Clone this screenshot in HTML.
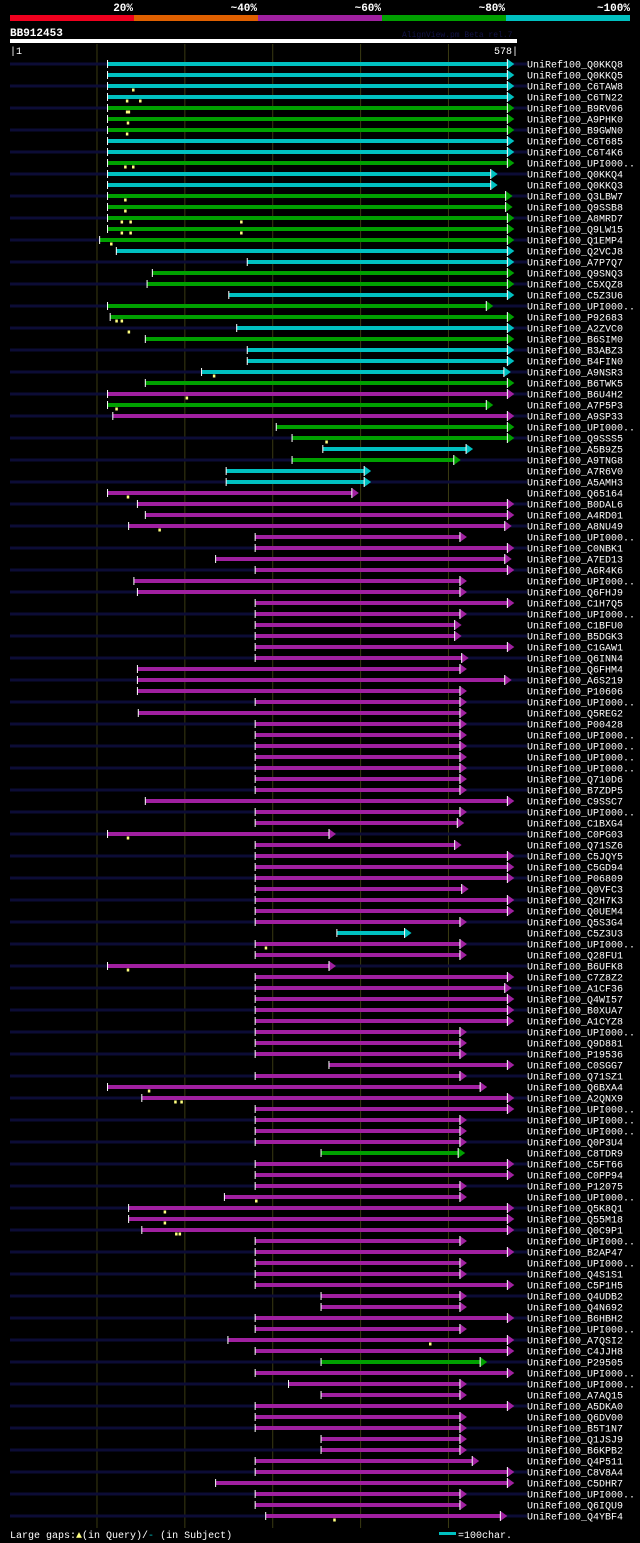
<!DOCTYPE html>
<html><head><meta charset="utf-8"><style>
html,body{margin:0;padding:0;background:#000;}
svg{display:block;}
text{font-family:"Liberation Mono",monospace;}
</style></head><body>
<svg id="chart" width="640" height="1543" viewBox="0 0 640 1543" xmlns="http://www.w3.org/2000/svg">
<rect x="0" y="0" width="640" height="1543" fill="#000"/>
<g id="header">
<rect x="10" y="15" width="124" height="6" fill="#f0001e"/>
<rect x="134" y="15" width="124" height="6" fill="#e06000"/>
<rect x="258" y="15" width="124" height="6" fill="#a020a0"/>
<rect x="382" y="15" width="124" height="6" fill="#00a000"/>
<rect x="506" y="15" width="124" height="6" fill="#00c0c0"/>
<text x="133" y="11" fill="#fff" font-size="11" font-weight="bold" text-anchor="end">20%</text>
<text x="257" y="11" fill="#fff" font-size="11" font-weight="bold" text-anchor="end">~40%</text>
<text x="381" y="11" fill="#fff" font-size="11" font-weight="bold" text-anchor="end">~60%</text>
<text x="505" y="11" fill="#fff" font-size="11" font-weight="bold" text-anchor="end">~80%</text>
<text x="630" y="11" fill="#fff" font-size="11" font-weight="bold" text-anchor="end">~100%</text>
<text x="10" y="36" fill="#fff" font-size="11" font-weight="bold">BB912453</text>
<text x="402" y="37" fill="#141448" font-size="8">AlignView.pm Beta rel.7</text>
<rect x="10" y="39" width="507" height="4" fill="#fff"/>
<text x="10" y="54" fill="#fff" font-size="10">|1</text>
<text x="518" y="54" fill="#fff" font-size="10" text-anchor="end">578|</text>
</g>
<g id="grid"></g>
<g id="rows"></g>
<g id="footer">
<text x="10" y="1538" fill="#fff" font-size="10">Large gaps:<tspan fill="#ffff80">▲</tspan>(in Query)/<tspan fill="#00c0c0">-</tspan> (in Subject)</text>
<rect x="439" y="1532" width="17" height="3" fill="#00c0c0"/>
<text x="458" y="1538" fill="#fff" font-size="10">=100char.</text>
</g>
</svg>
<script>
const labels = ["Q0KKQ8","Q0KKQ5","C6TAW8","C6TN22","B9RV06","A9PHK0","B9GWN0","C6T685","C6T4K6","UPI000..","Q0KKQ4","Q0KKQ3","Q3LBW7","Q9SSB8","A8MRD7","Q9LW15","Q1EMP4","Q2VCJ8","A7P7Q7","Q9SNQ3","C5XQZ8","C5Z3U6","UPI000..","P92683","A2ZVC0","B6SIM0","B3ABZ3","B4FIN0","A9NSR3","B6TWK5","B6U4H2","A7P5P3","A9SP33","UPI000..","Q9SSS5","A5B9Z5","A9TNG8","A7R6V0","A5AMH3","Q65164","B0DAL6","A4RD01","A8NU49","UPI000..","C0NBK1","A7ED13","A6R4K6","UPI000..","Q6FHJ9","C1H7Q5","UPI000..","C1BFU0","B5DGK3","C1GAW1","Q6INN4","Q6FHM4","A6S219","P10606","UPI000..","Q5REG2","P00428","UPI000..","UPI000..","UPI000..","UPI000..","Q710D6","B7ZDP5","C9SSC7","UPI000..","C1BXG4","C0PG03","Q71SZ6","C5JQY5","C5GD94","P06809","Q0VFC3","Q2H7K3","Q0UEM4","Q5S3G4","C5Z3U3","UPI000..","Q28FU1","B6UFK8","C7Z8Z2","A1CF36","Q4WI57","B0XUA7","A1CYZ8","UPI000..","Q9D881","P19536","C0SGG7","Q71SZ1","Q6BXA4","A2QNX9","UPI000..","UPI000..","UPI000..","Q0P3U4","C8TDR9","C5FT66","C0PP94","P12075","UPI000..","Q5K8Q1","Q55M18","Q0C9P1","UPI000..","B2AP47","UPI000..","Q4S1S1","C5P1H5","Q4UDB2","Q4N692","B6HBH2","UPI000..","A7QSI2","C4JJH8","P29505","UPI000..","UPI000..","A7AQ15","A5DKA0","Q6DV00","B5T1N7","Q1JSJ9","B6KPB2","Q4P511","C8V8A4","C5DHR7","UPI000..","Q6IQU9","Q4YBF4"];
const starts = [112,112,112,112,112,112,112,112,112,112,112,112,112,112,112,112,103,122,271,163,157,250,112,115,259,155,271,271,219,155,112,112,118,304,322,357,322,247,247,112,146,155,136,280,280,235,280,142,146,280,280,280,280,280,280,146,146,146,280,147,280,280,280,280,280,280,280,155,280,280,112,280,280,280,280,280,280,280,280,373,280,280,112,280,280,280,280,280,280,280,280,364,280,112,151,280,280,280,280,355,280,280,280,245,136,136,151,280,280,280,280,280,355,355,280,280,249,280,355,280,318,355,280,280,280,355,355,280,280,235,280,280,292];
const ends = [575,575,575,575,575,575,575,575,575,575,556,556,573,573,575,575,575,575,575,575,575,575,551,575,575,575,575,575,571,575,575,551,575,575,575,528,514,412,412,398,575,575,572,521,575,572,575,521,521,575,521,515,515,575,523,521,572,521,521,521,521,521,521,521,521,521,521,575,521,518,372,515,575,575,575,523,575,575,521,458,521,521,372,575,572,575,575,575,521,521,521,575,521,544,575,575,521,521,521,519,575,575,521,521,575,575,575,521,575,521,521,575,521,521,575,521,575,575,544,575,521,521,575,521,521,521,521,535,575,575,521,521,567];
const identity = ["c","c","c","c","g","g","g","c","c","g","c","c","g","g","g","g","g","c","c","g","g","c","g","g","c","g","c","c","c","g","m","g","m","g","g","c","g","c","c","m","m","m","m","m","m","m","m","m","m","m","m","m","m","m","m","m","m","m","m","m","m","m","m","m","m","m","m","m","m","m","m","m","m","m","m","m","m","m","m","c","m","m","m","m","m","m","m","m","m","m","m","m","m","m","m","m","m","m","m","g","m","m","m","m","m","m","m","m","m","m","m","m","m","m","m","m","m","m","g","m","m","m","m","m","m","m","m","m","m","m","m","m","m"];
const gapRows = [3,4,4,5,5,6,7,10,10,13,14,15,15,15,16,16,16,17,24,24,25,29,31,32,35,40,43,71,81,83,94,95,95,104,105,106,107,107,117,133];
const gapPos = [141,134,149,134,136,135,134,132,141,132,132,128,138,264,128,138,264,116,122,128,136,233,202,122,361,135,171,135,292,135,159,189,196,281,177,177,190,194,479,370];
const queryLength = 578;
const gridTicks = [100,200,300,400,500];

const NS = "http://www.w3.org/2000/svg";
const X0 = 10, X1 = 517, Y0 = 64, PITCH = 11;
const colorMap = {c:"#00c0c0", g:"#00a000", m:"#a020a0"};
function xScale(r){ return X0 + (r - 1) * (X1 - X0) / (queryLength - 1); }
function yScale(i){ return Y0 + i * PITCH; }
function mk(tag, attrs, parent){
  const el = document.createElementNS(NS, tag);
  for (const k in attrs) el.setAttribute(k, attrs[k]);
  parent.appendChild(el);
  return el;
}
const grid = document.getElementById("grid");
gridTicks.forEach(function(t){
  const l = mk("line", {x1:xScale(t), x2:xScale(t), y1:44, y2:1528, stroke:"#3a3a12", "stroke-width":1}, grid);
  
  
});
const rows = document.getElementById("rows");
labels.forEach(function(lab, i){
  const y = yScale(i);
  const g = mk("g", {}, rows);
  
  
  if (i % 2 === 0) {
    const bg = mk("rect", {x:X0, y:y-1.5, width:517, height:3, fill:"#0c0c36"}, g);
    
    
  }
  const xs = xScale(starts[i]), xe = xScale(ends[i]);
  const col = colorMap[identity[i]];
  const bar = mk("rect", {x:xs, y:y-2, width:Math.max(0, xe-7-xs), height:4, fill:col}, g);
  
  
  const tick = mk("rect", {x:xs-0.5, y:y-4, width:1, height:8, fill:"#fff"}, g);
  
  
  const arr = mk("polygon", {points:(xe-7)+","+(y-5)+" "+xe+","+y+" "+(xe-7)+","+(y+5), fill:col}, g);
  
  
  const edge = mk("rect", {x:xe-7.5, y:y-5, width:1, height:10, fill:"#fff"}, g);
  
  
  const tx = mk("text", {x:527, y:y+3.5, fill:"#fff", "font-size":10}, g);
  tx.textContent = "UniRef100_" + lab;
  
  
});
gapRows.forEach(function(r, k){
  const y = yScale(r-1);
  const x = xScale(gapPos[k]);
  const m = mk("rect", {x:x-1, y:y+2.5, width:2.5, height:3, fill:"#ffff80"}, rows);
  
  
});
</script>
</body></html>
